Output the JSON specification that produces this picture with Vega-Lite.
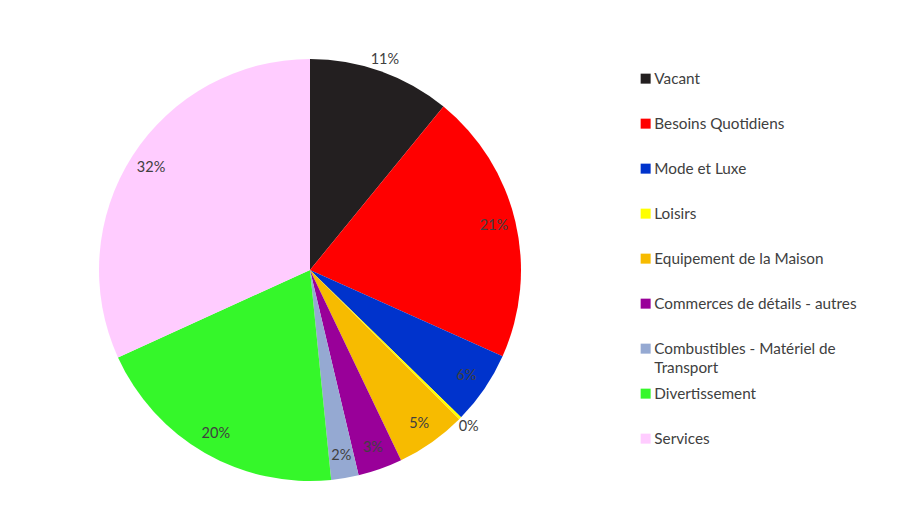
{
  "$schema": "https://vega.github.io/schema/vega-lite/v6.json",
  "width": 590,
  "height": 524,
  "padding": {"left": 15, "top": 8, "right": 0, "bottom": 0},
  "background": "white",
  "config": {"view": {"stroke": null}, "font": "Lato"},
  "data": {
    "values": [
      {"categorie": "Vacant", "part": 0.109, "ordre": 1},
      {"categorie": "Besoins Quotidiens", "part": 0.208, "ordre": 2},
      {"categorie": "Mode et Luxe", "part": 0.056, "ordre": 3},
      {"categorie": "Loisirs", "part": 0.002, "ordre": 4},
      {"categorie": "Equipement de la Maison", "part": 0.054, "ordre": 5},
      {"categorie": "Commerces de détails - autres", "part": 0.034, "ordre": 6},
      {"categorie": "Combustibles - Matériel de Transport", "part": 0.021, "ordre": 7},
      {"categorie": "Divertissement", "part": 0.198, "ordre": 8},
      {"categorie": "Services", "part": 0.318, "ordre": 9}
    ]
  },
  "encoding": {
    "theta": {"field": "part", "type": "quantitative", "stack": true},
    "order": {"field": "ordre", "type": "quantitative"}
  },
  "layer": [
    {
      "mark": {"type": "arc", "outerRadius": 211},
      "encoding": {
        "color": {
          "field": "categorie",
          "type": "nominal",
          "scale": {
            "domain": ["Vacant", "Besoins Quotidiens", "Mode et Luxe", "Loisirs", "Equipement de la Maison", "Commerces de détails - autres", "Combustibles - Matériel de Transport", "Divertissement", "Services"],
            "range": ["#231f20", "#ff0000", "#0033cc", "#ffff00", "#f7bb00", "#990099", "#95a9d2", "#35f72a", "#ffccff"]
          },
          "legend": {
            "orient": "none",
            "legendX": 623,
            "legendY": 63,
            "title": null,
            "padding": 0,
            "symbolType": "square",
            "symbolSize": 100,
            "symbolStrokeWidth": 0,
            "labelFontSize": 15.3,
            "labelColor": "#404040",
            "labelFont": "Lato",
            "labelLimit": 300,
            "labelOffset": 1,
            "rowPadding": 9,
            "labelExpr": "datum.label == 'Combustibles - Matériel de Transport' ? ['Combustibles - Matériel de', 'Transport'] : [datum.label, ' ']",
            "encode": {"labels": {"update": {"lineHeight": {"value": 19.5}}}}
          }
        }
      }
    },
    {
      "mark": {"type": "text", "radius": 189, "fontSize": 14.5, "color": "#404040", "font": "Lato"},
      "encoding": {
        "text": {
          "condition": {"test": "datum.categorie != 'Vacant' && datum.categorie != 'Loisirs'", "field": "part", "type": "quantitative", "format": ".0%"},
          "value": ""
        }
      }
    },
    {
      "mark": {"type": "text", "radius": 223, "fontSize": 14.5, "color": "#404040", "font": "Lato"},
      "encoding": {
        "text": {
          "condition": {"test": "datum.categorie == 'Vacant' || datum.categorie == 'Loisirs'", "field": "part", "type": "quantitative", "format": ".0%"},
          "value": ""
        }
      }
    }
  ]
}
